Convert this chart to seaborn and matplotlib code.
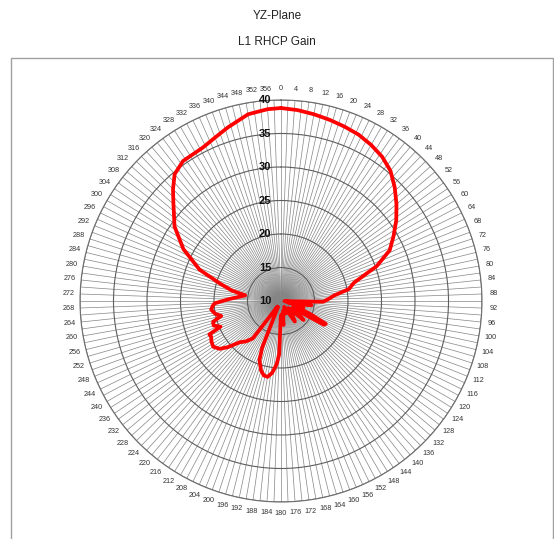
#!/usr/bin/env python3
"""
Polar gain pattern, YZ-plane, L1 RHCP.
"""

import matplotlib

matplotlib.use("Agg")
import matplotlib.pyplot as plt
import matplotlib.transforms as mtransforms
import numpy as np
import pandas as pd
import seaborn as sns
from matplotlib.patches import Rectangle

# values (angle clockwise from top, gain in dB)
angle_deg = [
    0, 5, 10, 15, 20, 25, 30, 35, 40, 45, 50, 55, 60, 65, 70, 76, 80, 84, 88, 91, 93,
    96, 98, 101, 106, 110, 114, 117, 119, 121, 126, 130, 134, 140, 146, 152, 160, 168,
    174, 178, 181, 182, 184, 187, 190, 193, 196, 200, 202, 204, 207, 211, 213, 217, 221,
    225, 229, 232, 236, 240, 243, 245, 247, 250, 253, 256, 259, 263, 266, 268, 272, 276,
    279, 282, 286, 291, 298, 305, 312, 316, 320, 325, 333, 338, 343, 350, 356, 360,
]
gain_db = [
    38.8, 38.6, 38.3, 38.0, 37.7, 37.4, 36.9, 36.3, 35.4, 34.0, 32.5, 31.0, 29.4, 27.9,
    25.2, 21.2, 20.3, 18.0, 17.0, 16.3, 10.5,
    13.0, 14.6, 11.0, 13.5, 12.0, 14.8, 17.5, 17.3, 12.0, 13.0, 14.4, 11.5, 12.5, 13.7,
    11.0, 12.0, 11.5, 13.6, 12.0, 12.5, 18.0, 19.5, 20.8, 21.5, 21.4, 20.8, 19.4, 17.5,
    12.0, 11.0, 11.5, 11.0, 17.0, 18.0, 18.7, 20.5, 21.6, 22.2, 22.0, 21.7, 21.8, 19.8,
    20.7, 20.6, 19.2, 20.0, 20.5, 20.2, 19.9, 17.8, 16.2, 15.4, 17.5, 19.5, 23.0, 26.5,
    29.4, 31.6, 33.2, 34.7, 35.5, 35.7, 36.3, 37.1, 38.3, 38.7, 38.8,
]
ring_values = [10, 15, 20, 25, 30, 35, 40]
spoke_deg = list(range(0, 360, 2))
label_deg = list(range(0, 360, 4))

sns.set_theme(style="white")
plt.rcParams["font.family"] = ["Liberation Sans", "DejaVu Sans"]

df = pd.DataFrame({"theta": np.deg2rad(angle_deg), "gain": gain_db})

fig = plt.figure(figsize=(5.54, 5.39), dpi=100)
fig.patch.set_facecolor("white")

# titles
fig.text(0.5, 1 - 16 / 539, "YZ-Plane", ha="center", va="center", fontsize=8.5, color="#222222")
fig.text(0.5, 1 - 42 / 539, "L1 RHCP Gain", ha="center", va="center", fontsize=8.5, color="#222222")

# outer frame
fig.patches.append(
    Rectangle(
        (11 / 554, -0.02), 542 / 554, (539 - 58) / 539 + 0.02,
        transform=fig.transFigure, fill=False, edgecolor="#a0a0a0", lw=1.0,
    )
)

ax = fig.add_axes([80 / 554, 37 / 539, 402 / 554, 402 / 539], projection="polar")
ax.set_theta_zero_location("N")
ax.set_theta_direction(-1)
ax.set_ylim(10, 40)

ax.set_xticks(np.deg2rad(spoke_deg))
ax.set_xticklabels([])
ax.tick_params(axis="x", length=0)
ax.xaxis.grid(True, color="#858585", lw=0.5)

ax.set_yticks(ring_values[1:])
ax.set_yticklabels([])
ax.yaxis.grid(True, color="#5e5e5e", lw=0.8)
ax.spines["polar"].set_color("#6e6e6e")
ax.spines["polar"].set_linewidth(0.8)

sns.lineplot(data=df, x="theta", y="gain", sort=False, estimator=None, color="red", lw=2.7, ax=ax)
ax.set_xlabel("")
ax.set_ylabel("")

# angle labels just outside the outer ring
for d in label_deg:
    ax.text(np.deg2rad(d), 41.7, str(d), ha="center", va="center",
            fontsize=5.2, color="#333333", clip_on=False)

# radial value labels along the 0 spoke
lab_tr = mtransforms.offset_copy(ax.transData, fig=fig, x=-7, y=0, units="points")
for v in ring_values:
    ax.text(0, v, str(v), transform=lab_tr, ha="right", va="center",
            fontsize=8, fontweight="bold", color="#111111", zorder=5)

fig.savefig("out.png", dpi=100, facecolor="white")
